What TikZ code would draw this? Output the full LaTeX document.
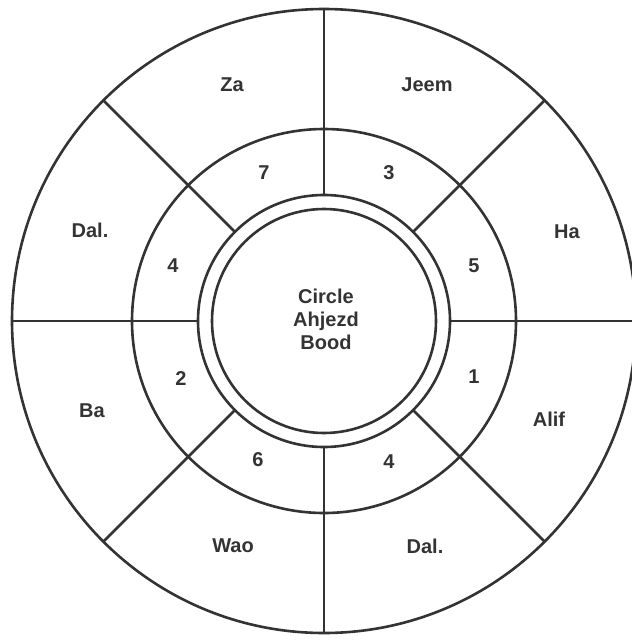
\documentclass[tikz,border=0pt]{standalone}
\usepackage{fontspec}
\setmainfont{Liberation Sans}
\usetikzlibrary{calc}
\begin{document}
\begin{tikzpicture}[x=1pt,y=-1pt,
  ring/.style={draw=black!80, line width=2.6pt},
  spoke/.style={draw=black!80, line width=2.8pt},
  lbl/.style={font=\bfseries\fontsize{20}{23}\selectfont, text=black!80, inner sep=0pt, align=center}]
\useasboundingbox (0,0) rectangle (632,643);
\coordinate (c) at (324,321);
% circles
\draw[ring] (c) circle[radius=312];
\draw[ring] (c) circle[radius=192];
\draw[ring] (c) circle[radius=126];
\draw[ring] (c) circle[radius=112];
% spokes
\foreach \a in {0,45,...,315}{
  \coordinate (i\a) at ($(c)+(\a:126)$);
  \coordinate (o\a) at ($(c)+(\a:312)$);
  \draw[spoke] (i\a) -- (o\a);
}
% outer labels
\node[lbl] (za)   at (232,85)  {Za};
\node[lbl] (jeem) at (427,85)  {Jeem};
\node[lbl] (ha)   at (567,232) {Ha};
\node[lbl] (dalA) at (90,230)  {Dal.};
\node[lbl] (ba)   at (92,411)  {Ba};
\node[lbl] (alif) at (549,419) {Alif};
\node[lbl] (wao)  at (233,546) {Wao};
\node[lbl] (dalB) at (425,546) {Dal.};
% numbers
\node[lbl] (n7)  at (264,173) {7};
\node[lbl] (n3)  at (389,173) {3};
\node[lbl] (n4a) at (173,266) {4};
\node[lbl] (n5)  at (474,266) {5};
\node[lbl] (n2)  at (181,379) {2};
\node[lbl] (n1)  at (474,377) {1};
\node[lbl] (n6)  at (258,460) {6};
\node[lbl] (n4b) at (389,462) {4};
% centre
\node[lbl] (ctr) at (326,319) {Circle\\Ahjezd\\Bood};
\end{tikzpicture}
\end{document}
